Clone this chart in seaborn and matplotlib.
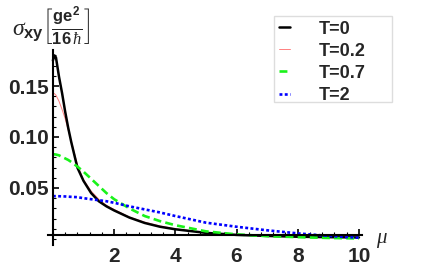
import matplotlib
matplotlib.use('Agg')
import matplotlib.pyplot as plt
import seaborn as sns
from matplotlib.patches import Rectangle
from matplotlib.ticker import MultipleLocator, FixedLocator

# values
mu = [0, 0.05, 0.1, 0.2, 0.3, 0.4, 0.5, 0.6, 0.8, 1.0, 1.25, 1.5, 1.75, 2.0,
      2.5, 3.0, 3.5, 4.0, 5.0, 6.0, 7.0, 8.0, 9.0, 10.0]
sigma_t0 = [0.175, 0.180, 0.178, 0.159, 0.143, 0.125, 0.109, 0.095, 0.070, 0.057,
            0.045, 0.037, 0.032, 0.028, 0.021, 0.0157, 0.012, 0.0095, 0.006, 0.004,
            0.003, 0.0022, 0.0018, 0.0015]
sigma_t02 = [0.143, 0.1425, 0.141, 0.135, 0.127, 0.118, 0.107, 0.096, 0.073, 0.058,
             0.047, 0.039, 0.033, 0.029, 0.0215, 0.0165, 0.0128, 0.010, 0.0062, 0.0041,
             0.003, 0.0022, 0.0018, 0.0015]
sigma_t07 = [0.083, 0.083, 0.0828, 0.082, 0.0805, 0.079, 0.0775, 0.0755, 0.071, 0.066,
             0.059, 0.052, 0.045, 0.039, 0.030, 0.0225, 0.0175, 0.0135, 0.0075, 0.0045,
             0.0028, 0.0018, 0.001, 0.0005]
sigma_t2 = [0.042, 0.042, 0.042, 0.0419, 0.0418, 0.0417, 0.0415, 0.0413, 0.041, 0.040,
            0.039, 0.038, 0.037, 0.0355, 0.032, 0.029, 0.026, 0.0225, 0.016, 0.012,
            0.0085, 0.0055, 0.003, 0.0012]
labels = ['T=0', 'T=0.2', 'T=0.7', 'T=2']
x_ticks = [2, 4, 6, 8, 10]
y_ticks = [0.05, 0.10, 0.15]

sns.set_style('white')
plt.rcParams['font.family'] = ['Liberation Sans', 'DejaVu Sans']
plt.rcParams['mathtext.fontset'] = 'custom'
plt.rcParams['mathtext.rm'] = 'Liberation Sans'
plt.rcParams['mathtext.bf'] = 'Liberation Sans:bold'
plt.rcParams['mathtext.it'] = 'Liberation Serif:italic'

fig = plt.figure(figsize=(4.36, 2.72), dpi=100)
ax = fig.add_axes([48 / 436, 1 - 245 / 272, 314 / 436, 195 / 272])

sns.lineplot(x=mu, y=sigma_t02, ax=ax, color=(1, 0.5, 0.5), lw=0.7, label=labels[1])
sns.lineplot(x=mu, y=sigma_t0, ax=ax, color='black', lw=1.8, label=labels[0])
sns.lineplot(x=mu, y=sigma_t07, ax=ax, color=(0.1, 0.95, 0.1), lw=1.9,
             linestyle=(0, (3, 1.6)), label=labels[2])
sns.lineplot(x=mu, y=sigma_t2, ax=ax, color=(0, 0, 1), lw=1.9,
             linestyle=(0, (1.1, 0.9)), label=labels[3])

ax.set_xlim(-0.16, 10.1)
ax.set_ylim(-0.0059, 0.1853)
ax.spines['left'].set_position(('data', 0))
ax.spines['bottom'].set_position(('data', 0.004))
ax.spines['top'].set_visible(False)
ax.spines['right'].set_visible(False)
for s in ['left', 'bottom']:
    ax.spines[s].set_linewidth(1.5)
    ax.spines[s].set_color('black')

ax.xaxis.set_major_locator(FixedLocator(x_ticks))
ax.xaxis.set_minor_locator(MultipleLocator(0.4))
ax.yaxis.set_major_locator(FixedLocator(y_ticks))
ax.yaxis.set_minor_locator(MultipleLocator(0.01))
ax.set_xticklabels([str(v) for v in x_ticks], fontsize=15, fontweight='bold')
ax.set_yticklabels([f'{v:.2f}' for v in y_ticks], fontsize=15, fontweight='bold')
ax.tick_params(axis='both', which='major', direction='in', length=4, width=1.2,
               color='black', bottom=True, left=True)
ax.tick_params(axis='both', which='minor', direction='in', length=2, width=0.8,
               color='black', bottom=True, left=True)
ax.tick_params(axis='x', which='major', pad=9)
ax.tick_params(axis='y', which='major', pad=3)
ax.set_xlabel('')
ax.set_ylabel('')

fig.text(382 / 436, 1 - 241 / 272, r'$\mu$', fontsize=15, ha='center', va='center')
fig.text(12 / 436, 1 - 4 / 272,
         r'$\sigma_{\mathbf{xy}}\left[\frac{\mathbf{ge^2}}{\mathbf{16}\,\hbar}\right]$',
         fontsize=17, ha='left', va='top')

handles, labs = ax.get_legend_handles_labels()
order = [labs.index(l) for l in labels]
leg = ax.legend([handles[i] for i in order], labels,
                loc='upper left', bbox_to_anchor=(276 / 436, 1 - 18 / 272),
                bbox_transform=fig.transFigure, borderaxespad=0,
                prop={'family': 'Liberation Sans', 'weight': 'bold', 'size': 13},
                handlelength=0.65, handletextpad=1.55, labelspacing=0.28,
                borderpad=0.15, frameon=False)
fig.patches.append(Rectangle((274 / 436, 1 - 102 / 272), 118 / 436, 86 / 272,
                             transform=fig.transFigure, fill=False,
                             edgecolor='#dddddd', linewidth=1.0))

fig.savefig('out.png', dpi=100)
